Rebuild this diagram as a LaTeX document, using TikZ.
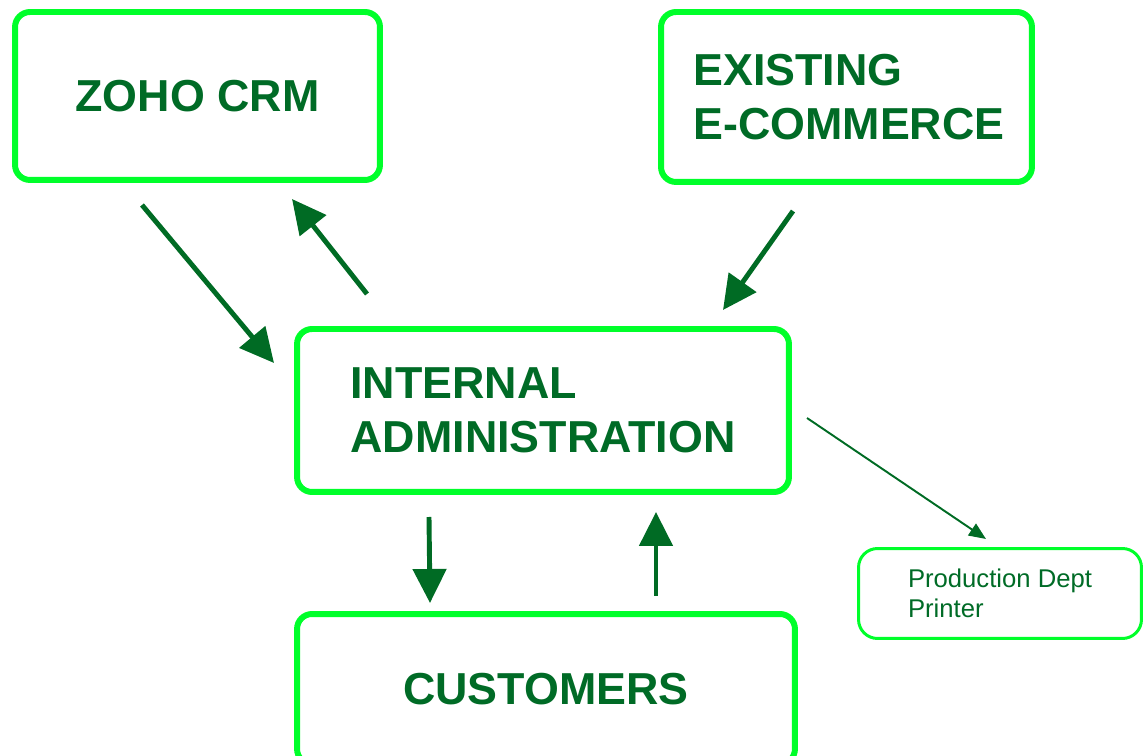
\documentclass[tikz,border=0pt]{standalone}
\usepackage{fontspec}
\setmainfont{Liberation Sans}
\usetikzlibrary{arrows.meta}
\definecolor{boxgreen}{HTML}{00FF2A}
\definecolor{txtgreen}{HTML}{006B26}
\definecolor{arrowgreen}{HTML}{006B24}
\begin{document}
\begin{tikzpicture}[x=0.02cm,y=-0.02cm,
  bigbox/.style={draw=boxgreen, line width=3.4pt, rounded corners=0.3cm, inner sep=0pt, align=left, text=txtgreen, font=\fontsize{25.5}{30.5}\selectfont\bfseries},
  smallbox/.style={draw=boxgreen, line width=1.7pt, rounded corners=0.38cm, inner sep=0pt, align=left, text=txtgreen, font=\fontsize{14.6}{17}\selectfont},
  bigarrow/.style={draw=arrowgreen, line width=2.8pt, -{Triangle[length=0.68cm,width=0.66cm]}},
  thinarrow/.style={draw=arrowgreen, line width=1.1pt, -{Triangle[length=0.34cm,width=0.28cm]}}]
\useasboundingbox (0,0) rectangle (1143,756);
\node[bigbox, minimum width=7.3cm, minimum height=3.36cm] (zoho) at (197.5,96) {ZOHO CRM};
\node[bigbox, minimum width=7.42cm, minimum height=3.4cm] (ecom) at (846.5,97) {\hspace*{0.1cm}EXISTING\\\hspace*{0.1cm}E-COMMERCE};
\node[bigbox, minimum width=9.84cm, minimum height=3.26cm] (admin) at (543,410.5) {INTERNAL\\ADMINISTRATION};
\node[bigbox, minimum width=9.96cm, minimum height=3.0cm] (cust) at (546,689) {CUSTOMERS};
\node[smallbox, minimum width=5.66cm, minimum height=1.8cm] (prod) at (1000,593.5) {Production Dept\\Printer};
% connector end points
\coordinate (z2a-s) at (142,205);
\coordinate (z2a-e) at (274,363);
\coordinate (a2z-s) at (367,294);
\coordinate (a2z-e) at (292,199);
\coordinate (e2a-s) at (793,211);
\coordinate (e2a-e) at (723,310);
\coordinate (a2c-s) at (429,517);
\coordinate (a2c-e) at (430,603);
\coordinate (c2a-s) at (656,596);
\coordinate (c2a-e) at (656,512);
\coordinate (a2p-s) at (807,418);
\coordinate (a2p-e) at (986,539);
\draw[bigarrow] (z2a-s) -- (z2a-e);
\draw[bigarrow] (a2z-s) -- (a2z-e);
\draw[bigarrow] (e2a-s) -- (e2a-e);
\draw[bigarrow] (a2c-s) -- (a2c-e);
\draw[bigarrow] (c2a-s) -- (c2a-e);
\draw[thinarrow] (a2p-s) -- (a2p-e);
\end{tikzpicture}
\end{document}
